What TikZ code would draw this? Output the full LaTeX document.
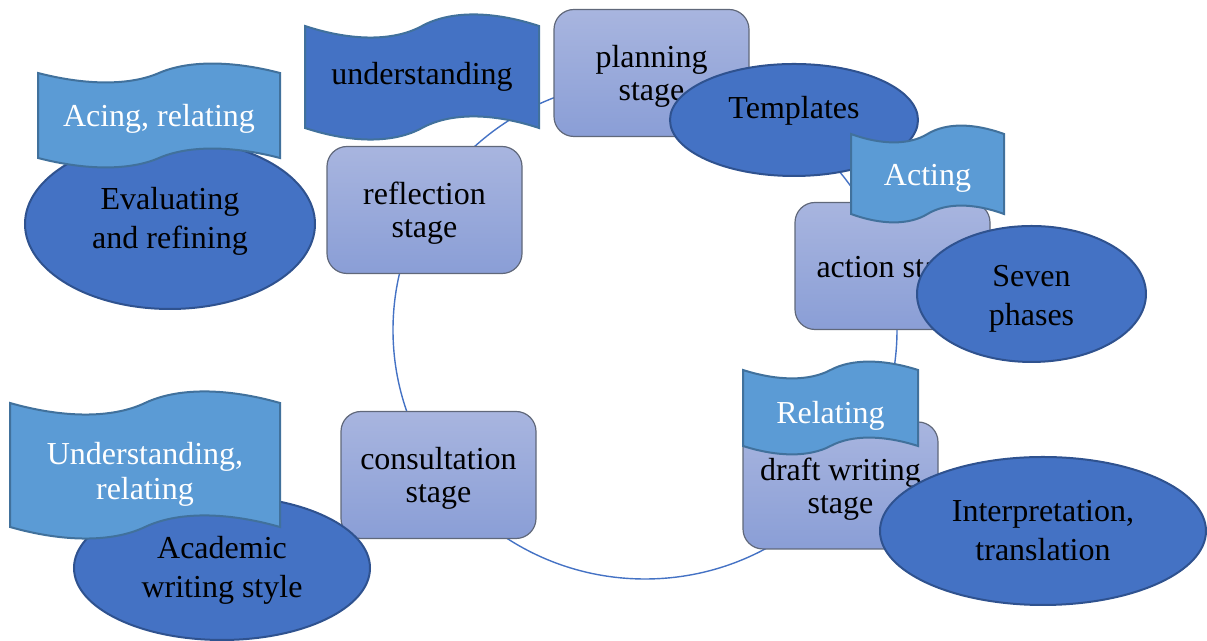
\documentclass[tikz,border=0pt]{standalone}
\usepackage{fontspec}
\setmainfont{Liberation Serif}
\usepackage{tikz}
\usetikzlibrary{shapes, calc, positioning}

\definecolor{stagetop}{RGB}{168,181,223}
\definecolor{stagebottom}{RGB}{138,158,214}
\definecolor{stageline}{RGB}{96,104,122}
\definecolor{ovalblue}{RGB}{68,114,196}
\definecolor{ovalline}{RGB}{47,82,143}
\definecolor{wavelight}{RGB}{91,155,213}
\definecolor{waveline}{RGB}{65,113,156}

% Wave banner: name, centre, width, height, amplitude, fill, text colour, text, text shift
\newcommand{\wavebanner}[9]{%
  \begin{scope}[shift={(#2)}]
    \pgfmathsetmacro{\bnhw}{#3/2}
    \pgfmathsetmacro{\bnhh}{#4/2}
    \pgfmathsetmacro{\bnamp}{#5}
    \draw [wave, fill=#6]
      (-\bnhw,\bnhh) .. controls (-0.6*\bnhw,\bnhh-1.4*\bnamp) and (-0.24*\bnhw,\bnhh-1.4*\bnamp) .. (0,\bnhh)
      .. controls (0.24*\bnhw,\bnhh+1.4*\bnamp) and (0.6*\bnhw,\bnhh+1.4*\bnamp) .. (\bnhw,\bnhh)
      -- (\bnhw,-\bnhh)
      .. controls (0.6*\bnhw,-\bnhh+1.4*\bnamp) and (0.24*\bnhw,-\bnhh+1.4*\bnamp) .. (0,-\bnhh)
      .. controls (-0.24*\bnhw,-\bnhh-1.4*\bnamp) and (-0.6*\bnhw,-\bnhh-1.4*\bnamp) .. (-\bnhw,-\bnhh)
      -- cycle
      node [wavetext, text=#7] (#1) at (0,#9) {#8};
  \end{scope}}

\begin{document}
\begin{tikzpicture}[x=0.5pt, y=0.5pt]

    % Styles
    \tikzstyle{stage} = [draw=stageline, line width=0.6pt, rounded corners=10pt, top color=stagetop, bottom color=stagebottom, minimum width=97.5pt, minimum height=63.5pt, text height=31.4pt, align=center, font=\fontsize{16}{16.5}\selectfont]
    \tikzstyle{oval} = [ellipse, draw=ovalline, line width=1pt, fill=ovalblue, inner sep=0pt, align=center, font=\fontsize{16}{19.5}\selectfont]
    \tikzstyle{wave} = [draw=waveline, line width=1pt]
    \tikzstyle{wavetext} = [align=center, font=\fontsize{16}{17.5}\selectfont]
    \tikzstyle{ring} = [draw=ovalblue, line width=0.7pt]

    \useasboundingbox (0,0) rectangle (1207,641);

    % Cycle ring (behind the stages)
    \coordinate (ring_centre) at (645,311);
    \draw [ring] (ring_centre) ellipse [x radius=252, y radius=249];

    % Stages
    \node [stage] (planning) at (651.5,568) {planning\\stage};
    \node [stage, text height=14.9pt] (action) at (892.5,375) {action stage};
    \node [stage] (draft) at (840.5,155.5) {draft writing\\stage};
    \node [stage] (consultation) at (438.5,166) {consultation\\stage};
    \node [stage] (reflection) at (424.5,431) {reflection\\stage};

    % Planning stage: understanding, templates
    \wavebanner{understanding}{422,564}{234}{102}{11}{ovalblue}{black}{understanding}{0}
    \node [oval, minimum width=124pt, minimum height=56pt, text depth=13pt] (templates) at (794,521) {Templates};

    % Action stage: acting, seven phases
    \wavebanner{acting}{927.5,467}{153}{80}{8}{wavelight}{white}{Acting}{-4}
    \node [oval, minimum width=114.5pt, minimum height=68pt, text height=34.8pt] (seven) at (1031.5,347) {Seven\\phases};

    % Draft writing stage: relating, interpretation
    \wavebanner{relating}{830.5,233}{175}{76}{8}{wavelight}{white}{Relating}{-8}
    \node [oval, minimum width=163pt, minimum height=74pt] (interpretation) at (1043,110) {Interpretation,\\translation};

    % Reflection stage: evaluating, acing
    \node [oval, minimum width=145pt, minimum height=85pt, text height=34.4pt, text depth=10pt] (evaluating) at (170,417) {Evaluating\\and refining};
    \wavebanner{acing}{159,525.5}{242}{85}{9}{wavelight}{white}{Acing, relating}{-3}

    % Consultation stage: academic style, understanding
    \node [oval, minimum width=148pt, minimum height=72pt, text height=33pt] (academic) at (222,73) {Academic\\writing style};
    \wavebanner{understandrel}{145,176}{270}{124}{11}{wavelight}{white}{Understanding,\\relating}{-9}

\end{tikzpicture}
\end{document}
